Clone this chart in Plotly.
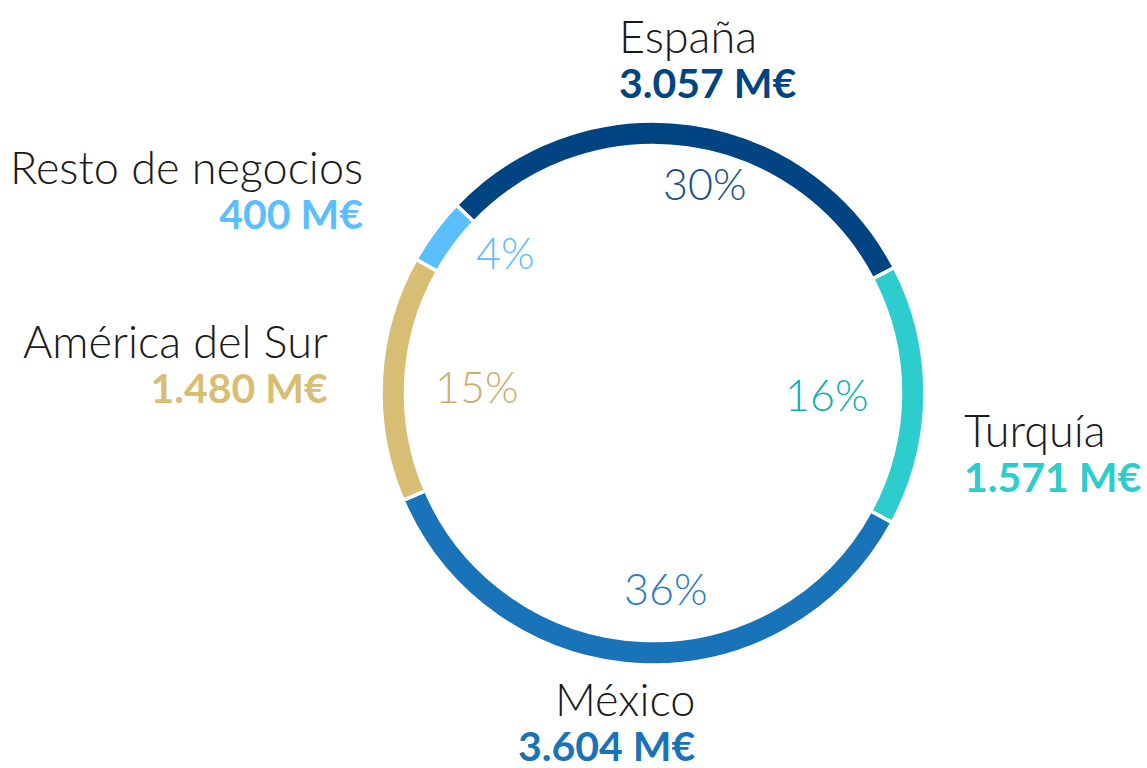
import plotly.graph_objects as go

# Beneficio atribuido por área de negocio (millones de euros)
areas = ["España", "Turquía", "México", "América del Sur", "Resto de negocios"]
valores = [3057, 1571, 3604, 1480, 400]

colores_anillo = ["#004481", "#2DCCCD", "#1973B8", "#D8BE75", "#5BBEFF"]
colores_pct = ["#1A4F8C", "#10AEAE", "#2A7DC2", "#C9AE70", "#5BBEFF"]
colores_valor = ["#004481", "#2DCCCD", "#1973B8", "#D8BE75", "#5BBEFF"]

W, H = 1147, 768
CX, CY, R = 653, 393, 272  # centro y radio del anillo en píxeles

total = sum(valores)
porcentajes = [round(v / total * 100) for v in valores]


def miles(v):
    return f"{v:,}".replace(",", ".")


fig = go.Figure()
fig.add_trace(go.Pie(
    labels=areas,
    values=valores,
    hole=0.91,
    sort=False,
    direction="clockwise",
    rotation=-46.3,
    marker=dict(colors=colores_anillo, line=dict(color="white", width=3.5)),
    textinfo="none",
    hoverinfo="label+value+percent",
    showlegend=False,
    domain=dict(x=[(CX - R) / W, (CX + R) / W],
                y=[(H - CY - R) / H, (H - CY + R) / H]),
))

FUENTE = "Lato"
NEGRO = "#1a1a1a"

# Posición (px) de cada bloque nombre + valor (centro vertical) y del porcentaje
etiquetas = {
    "España":            dict(x=617, anchor="left",  y=58,  pct=(704, 183)),
    "Turquía":           dict(x=962, anchor="left",  y=452, pct=(826, 394)),
    "México":            dict(x=698, anchor="right", y=721, pct=(665, 588)),
    "América del Sur":   dict(x=330, anchor="right", y=363, pct=(476, 386)),
    "Resto de negocios": dict(x=365, anchor="right", y=189, pct=(505, 252)),
}


def px(x, y):
    return x / W, 1 - y / H


for i, area in enumerate(areas):
    e = etiquetas[area]
    xb, yb = px(e["x"], e["y"])
    texto = (f"<span style='font-size:45px'>{area}</span><br>"
             f"<span style='font-size:41px;color:{colores_valor[i]}'>"
             f"<b>{miles(valores[i])} M€</b></span>")
    fig.add_annotation(x=xb, y=yb, xref="paper", yref="paper", text=texto,
                       showarrow=False, xanchor=e["anchor"], yanchor="middle",
                       align=e["anchor"],
                       font=dict(family=FUENTE, size=34.5, color=NEGRO, weight=300))
    xp, yp = px(*e["pct"])
    fig.add_annotation(x=xp, y=yp, xref="paper", yref="paper",
                       text=f"{porcentajes[i]}%",
                       showarrow=False, xanchor="center", yanchor="middle",
                       font=dict(family=FUENTE, size=43, color=colores_pct[i], weight=300))

fig.update_layout(
    width=W, height=H,
    margin=dict(l=0, r=0, t=0, b=0),
    paper_bgcolor="white",
    plot_bgcolor="white",
)

fig.write_html("out.html")
